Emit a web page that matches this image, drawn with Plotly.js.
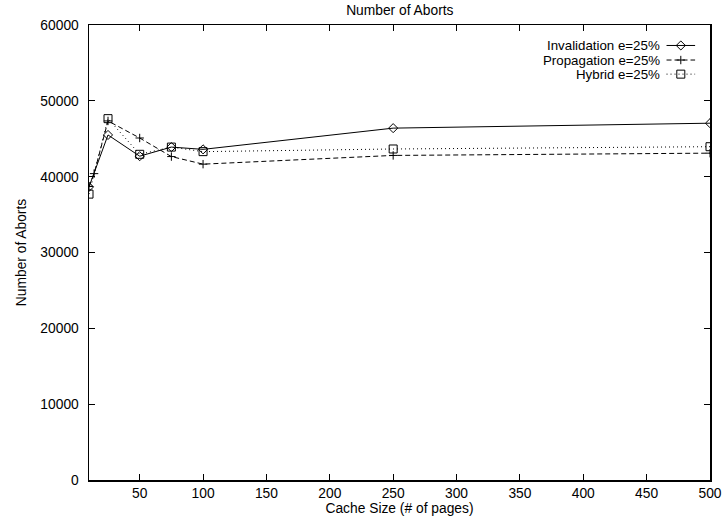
<!DOCTYPE html>
<html><head><meta charset="utf-8">
<script src="https://cdn.plot.ly/plotly-3.0.1.min.js"></script>
<style>html,body{margin:0;padding:0;background:#fff}#c{width:723px;height:523px}</style>
</head><body><div id="c"></div>
<script>
const seriesNames = ["Invalidation e=25%", "Propagation e=25%", "Hybrid e=25%"];
const invX = [10, 25, 50, 75, 100, 250, 500];
const invY = [38650, 45500, 42700, 43900, 43600, 46400, 47050];
const propX = [10, 14, 25, 50, 75, 100, 250, 500];
const propY = [38700, 40400, 47350, 45100, 42650, 41650, 42800, 43100];
const hybX = [10, 25, 50, 75, 100, 250, 500];
const hybY = [37700, 47650, 42950, 43900, 43300, 43650, 43950];
const xTicks = [50, 100, 150, 200, 250, 300, 350, 400, 450, 500];
const yTicks = [0, 10000, 20000, 30000, 40000, 50000, 60000];

const styles = [
  {dash: 'solid', symbol: 'diamond-open', size: 7},
  {dash: '5px,3px', symbol: 'cross-thin-open', size: 6},
  {dash: '1px,3px', symbol: 'square-open', size: 8}
];
const xs = [invX, propX, hybX], ys = [invY, propY, hybY];
const traces = [];
for (let i = 0; i < 3; i++) {
  traces.push({
    x: xs[i], y: ys[i], type: 'scatter', mode: 'lines+markers', name: seriesNames[i],
    showlegend: false,
    line: {color: '#000', width: 1, dash: styles[i].dash},
    marker: {symbol: styles[i].symbol, size: styles[i].size, color: '#000', line: {color: '#000', width: 1}}
  });
}
// legend samples drawn on an overlay axis pair (0..1)
const legY = [0.955, 0.923, 0.892];
const annotations = [];
for (let i = 0; i < 3; i++) {
  traces.push({
    x: [0.930, 0.976], y: [legY[i], legY[i]], xaxis: 'x2', yaxis: 'y2', type: 'scatter', mode: 'lines',
    showlegend: false, hoverinfo: 'skip', line: {color: '#000', width: 1, dash: styles[i].dash}
  });
  traces.push({
    x: [0.953], y: [legY[i]], xaxis: 'x2', yaxis: 'y2', type: 'scatter', mode: 'markers',
    showlegend: false, hoverinfo: 'skip',
    marker: {symbol: styles[i].symbol, size: styles[i].size, color: '#000', line: {color: '#000', width: 1}}
  });
  annotations.push({xref: 'paper', yref: 'paper', x: 0.921, y: legY[i], xanchor: 'right', yanchor: 'middle',
    text: seriesNames[i], showarrow: false, borderpad: 0,
    font: {size: 13.3, color: '#000'}});
}
const axCommon = {
  showgrid: false, zeroline: false, showline: true, linecolor: '#000', linewidth: 1.5,
  mirror: 'ticks', ticks: 'inside', ticklen: 6, tickcolor: '#000', tickwidth: 1,
  tickfont: {size: 13.8, color: '#000'}
};
const layout = {
  width: 723, height: 523,
  margin: {l: 89, r: 13, t: 25, b: 43},
  paper_bgcolor: '#fff', plot_bgcolor: '#fff',
  font: {family: 'Liberation Sans, Arial, sans-serif', color: '#000'},
  title: {text: 'Number of Aborts', font: {size: 13.8, color: '#000'}, x: 0.553, xanchor: 'center', y: 0.99, yanchor: 'top'},
  xaxis: Object.assign({}, axCommon, {range: [10, 500], tickvals: xTicks, ticktext: xTicks.map(String),
    title: {text: 'Cache Size (# of pages)', font: {size: 13.8}, standoff: 0}}),
  yaxis: Object.assign({}, axCommon, {range: [0, 60000], tickvals: yTicks, ticktext: yTicks.map(String),
    ticklabelstandoff: 6,
    title: {text: 'Number of Aborts', font: {size: 13.8}, standoff: 10}}),
  xaxis2: {overlaying: 'x', range: [0, 1], visible: false, fixedrange: true},
  yaxis2: {overlaying: 'y', range: [0, 1], visible: false, fixedrange: true},
  annotations: annotations,
  showlegend: false
};
Plotly.newPlot('c', traces, layout, {displayModeBar: false, staticPlot: true});
</script></body></html>
